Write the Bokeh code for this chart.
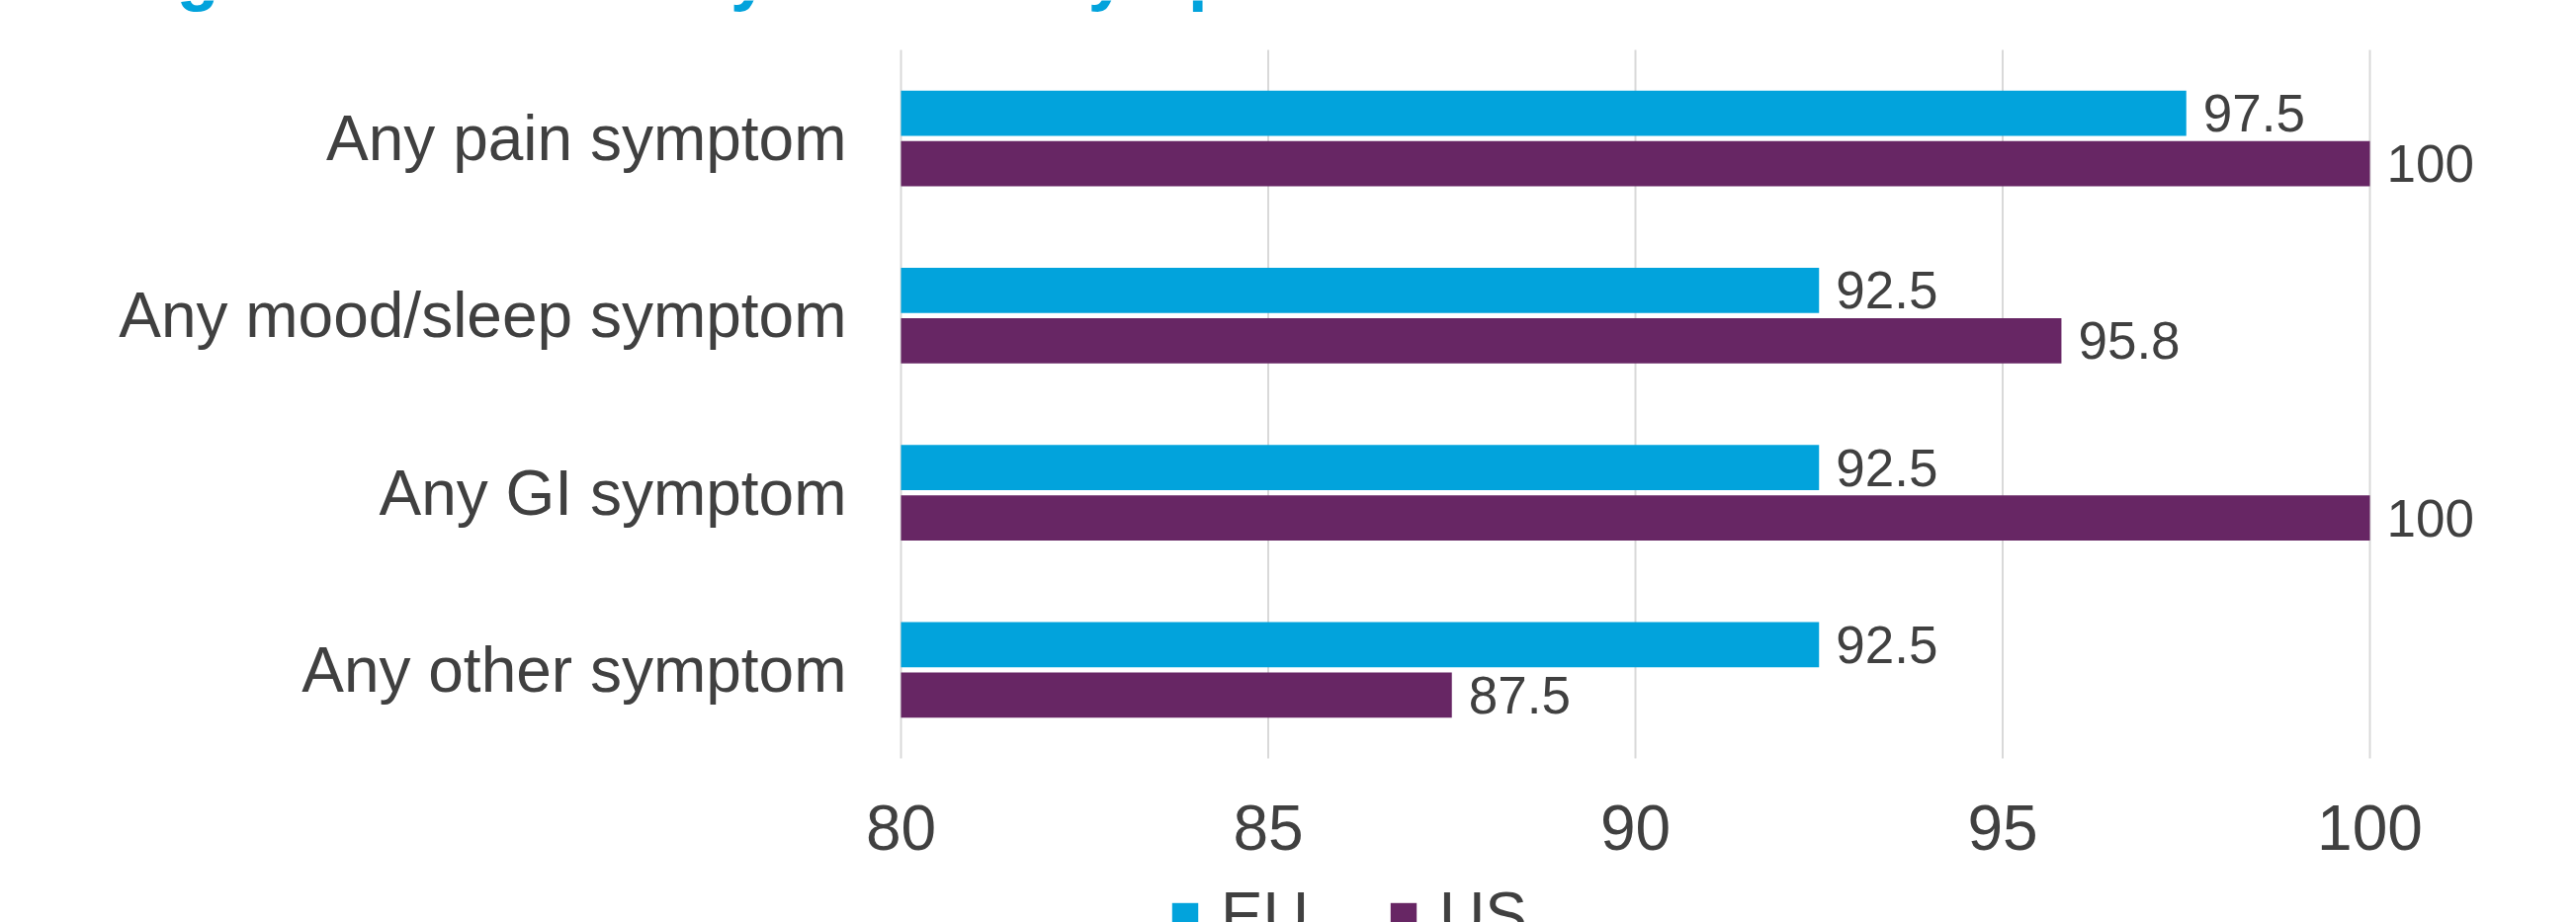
from bokeh.plotting import figure
from bokeh.models import (ColumnDataSource, Range1d, FixedTicker,
                          LabelSet, Label, Legend, LegendItem)
from bokeh.core.properties import value
from bokeh.embed import file_html
from bokeh.resources import INLINE

# ---- data ----
categories = ["Any pain symptom", "Any mood/sleep symptom", "Any GI symptom", "Any other symptom"]
eu_values = [97.5, 92.5, 92.5, 92.5]
us_values = [100, 95.8, 100, 87.5]
series_names = ["EU", "US"]
x_ticks = [80, 85, 90, 95, 100]
title_text = "Figure 2. Sensitivity of each symptom domain"

EU_COLOR = "#02A3DC"
US_COLOR = "#672664"
TEXT_COLOR = "#404040"
GRID_COLOR = "#D9D9D9"
FONT = "Liberation Sans"

# ---- layout (pixels of the picture); the frame covers the whole canvas ----
W, H = 2606, 933
X80_PX, X100_PX = 911, 2397           # where the axis values 80 and 100 sit
AREA_TOP, AREA_BOTTOM = 50, 767       # bar area
n = len(categories)
PX_PER_X = (X100_PX - X80_PX) / (x_ticks[-1] - x_ticks[0])
PITCH = (AREA_BOTTOM - AREA_TOP) / n

x_start = x_ticks[0] - X80_PX / PX_PER_X
x_end = x_start + W / PX_PER_X
y_start = -(H - AREA_BOTTOM) / PITCH
y_end = AREA_BOTTOM / PITCH

# category centres: first category at the top
centres = [n - i - 0.5 for i in range(n)]
off, bh = 0.142, 0.256

src = ColumnDataSource(dict(
    cat=categories,
    y_eu=[c + off for c in centres],
    y_us=[c - off for c in centres],
    eu=eu_values,
    us=us_values,
    eu_lbl=[f"{v:g}" for v in eu_values],
    us_lbl=[f"{v:g}" for v in us_values],
))

p = figure(width=W, height=H, output_backend="svg", toolbar_location=None,
           x_range=Range1d(x_start, x_end), y_range=Range1d(y_start, y_end),
           min_border=0)
p.min_border_left = p.min_border_right = p.min_border_top = p.min_border_bottom = 0
p.outline_line_color = None
p.background_fill_color = "white"
p.border_fill_color = "white"
p.xgrid.grid_line_color = None
p.ygrid.grid_line_color = None

# vertical gridlines spanning the bar area only
p.segment(x0=x_ticks, x1=x_ticks, y0=[0] * len(x_ticks), y1=[n] * len(x_ticks),
          line_color=GRID_COLOR, line_width=2)

r_eu = p.hbar(y="y_eu", left=x_ticks[0], right="eu", height=bh, source=src,
              fill_color=EU_COLOR, line_color=None)
r_us = p.hbar(y="y_us", left=x_ticks[0], right="us", height=bh, source=src,
              fill_color=US_COLOR, line_color=None)

for col in ("eu", "us"):
    p.add_layout(LabelSet(x=col, y="y_" + col, text=col + "_lbl", source=src,
                          x_offset=17, text_baseline="middle",
                          text_font_size="53px", text_font=value(FONT),
                          text_color=TEXT_COLOR))

# axes (drawn at the edges of the bar area)
p.xaxis.fixed_location = 0
p.xaxis.ticker = FixedTicker(ticks=x_ticks)
p.xaxis.axis_line_color = None
p.xaxis.major_tick_line_color = None
p.xaxis.minor_tick_line_color = None
p.xaxis.major_tick_out = 0
p.xaxis.major_tick_in = 0
p.xaxis.major_label_text_font_size = "64px"
p.xaxis.major_label_text_font = FONT
p.xaxis.major_label_text_color = TEXT_COLOR
p.xaxis.major_label_standoff = 47

p.yaxis.fixed_location = x_ticks[0]
p.yaxis.ticker = FixedTicker(ticks=centres)
p.yaxis.major_label_overrides = {c: cat for c, cat in zip(centres, categories)}
p.yaxis.axis_line_color = None
p.yaxis.major_tick_line_color = None
p.yaxis.minor_tick_line_color = None
p.yaxis.major_tick_out = 0
p.yaxis.major_tick_in = 0
p.yaxis.major_label_text_font_size = "64px"
p.yaxis.major_label_text_font = FONT
p.yaxis.major_label_text_color = TEXT_COLOR
p.yaxis.major_label_standoff = 55

# legend below the axis (cut by the bottom edge, as in the reference)
legend = Legend(items=[LegendItem(label=series_names[0], renderers=[r_eu]),
                       LegendItem(label=series_names[1], renderers=[r_us])],
                orientation="horizontal", location=(1182, -30),
                glyph_width=33, glyph_height=33, label_standoff=20, spacing=79,
                padding=0, margin=0, border_line_color=None, background_fill_alpha=0,
                label_text_font_size="64px", label_text_font=FONT,
                label_text_color=TEXT_COLOR)
p.add_layout(legend)

# title (mostly cut off at the top of the picture; only descenders show)
p.add_layout(Label(x=116, y=H + 27.5, x_units="screen", y_units="screen",
                   text=title_text, text_font=FONT, text_font_style="bold",
                   text_font_size="70px", text_color=EU_COLOR,
                   text_baseline="alphabetic"))

open("out.html", "w").write(file_html(p, INLINE))
